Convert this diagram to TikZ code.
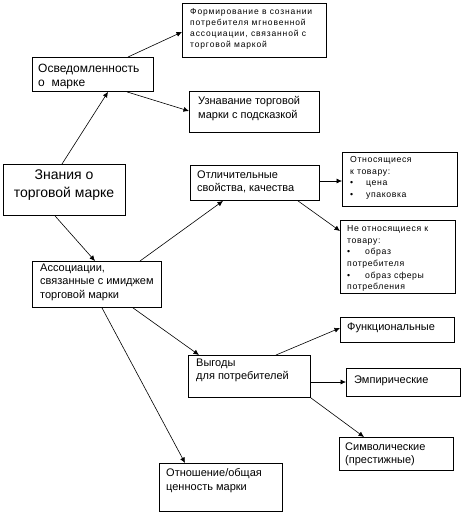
\documentclass[tikz,border=0pt]{standalone}
\usepackage{fontspec}
\setmainfont{Liberation Sans}
\newfontfamily\spaced[LetterSpace=10]{Liberation Sans}
\newfontfamily\mspaced[LetterSpace=7]{Liberation Sans}
\usetikzlibrary{arrows.meta,calc}
\begin{document}
\begin{tikzpicture}[x=1pt,y=-1pt,
  box/.style={draw=black,line width=0.9pt,rectangle,inner sep=0pt,anchor=north west},
  txt/.style={anchor=north west,inner sep=0pt,align=left,font=\fontsize{11}{13.5}\selectfont},
  ltxt/.style={anchor=north west,inner sep=0pt,align=left,font=\fontsize{12}{13.5}\selectfont},
  stxt/.style={anchor=north west,inner sep=0pt,align=left,font=\spaced\fontsize{8.5}{11}\selectfont},
  mtxt/.style={anchor=north west,inner sep=0pt,align=left,font=\mspaced\fontsize{8.7}{11.6}\selectfont},
  btxt/.style={inner sep=0pt,align=center,font=\fontsize{14}{18}\selectfont},
  arr/.style={draw=black,line width=0.6pt,-{Latex[length=5.5pt,width=5pt]}}
]
\fill[white] (0,0) rectangle (466,514);
\useasboundingbox (0,0) rectangle (466,514);

% boxes
\node[box,minimum width=144pt,minimum height=54pt] (form) at (182,3) {};
\node[box,minimum width=121pt,minimum height=34pt] (os) at (32,57) {};
\node[box,minimum width=130pt,minimum height=41pt] (uzn) at (189,91) {};
\node[box,minimum width=122pt,minimum height=51pt] (zn) at (3,164) {};
\node[box,minimum width=129pt,minimum height=35pt] (ot) at (190,165) {};
\node[box,minimum width=115pt,minimum height=54pt] (rel) at (342,152) {};
\node[box,minimum width=115pt,minimum height=73pt] (nrel) at (340,220) {};
\node[box,minimum width=129pt,minimum height=46pt] (as) at (32,261) {};
\node[box,minimum width=114pt,minimum height=25pt] (fn) at (340,317) {};
\node[box,minimum width=122pt,minimum height=42pt] (vy) at (188,355) {};
\node[box,minimum width=114pt,minimum height=28pt] (emp) at (346,368) {};
\node[box,minimum width=114pt,minimum height=33pt] (sym) at (339,437) {};
\node[box,minimum width=123pt,minimum height=48pt] (otn) at (159,463) {};

% texts
\node[stxt] (form-t) at (190,8.5) {Формирование в сознании\\потребителя мгновенной\\ассоциации, связанной с\\торговой маркой};
\node[ltxt] (os-t) at (38,64) {Осведомленность\\о~~марке};
\node[txt] (uzn-t) at (198,96.5) {Узнавание торговой\\марки с подсказкой};
\node[btxt] (zn-t) at (64,185) {Знания о\\торговой марке};
\node[txt] (ot-t) at (197,170.5) {Отличительные\\свойства, качества};
\node[mtxt] (rel-t) at (350,156.5) {Относящиеся\\к товару:\\\makebox[16pt][l]{•}цена\\\makebox[16pt][l]{•}упаковка};
\node[mtxt] (nrel-t) at (347,225.5) {Не относящиеся к\\товару:\\\makebox[18pt][l]{•}образ\\потребителя\\\makebox[18pt][l]{•}образ сферы\\потребления};
\node[txt] (as-t) at (40,263.5) {Ассоциации,\\связанные с имиджем\\торговой марки};
\node[txt] (fn-t) at (347,322.5) {Функциональные};
\node[txt] (vy-t) at (196,358.5) {Выгоды\\для потребителей};
\node[txt] (emp-t) at (354,375.5) {Эмпирические};
\node[txt] (sym-t) at (345,442.5) {Символические\\(престижные)};
\node[txt] (otn-t) at (166,468.5) {Отношение/общая\\ценность марки};

% connectors
\draw[arr] ([xshift=59pt]zn.north west) -- ([xshift=76pt]os.south west);
\draw[arr] ([xshift=96pt]os.north west) -- ([yshift=-29pt]form.north west);
\draw[arr] ([xshift=95pt]os.south west) -- ([yshift=-20pt]uzn.north west);
\draw[arr] ([xshift=52pt]zn.south west) -- ([xshift=63pt]as.north west);
\draw[arr] ([xshift=108pt]as.north west) -- ([xshift=33pt]ot.south west);
\draw[arr] ([yshift=-16pt]ot.north east) -- ([yshift=-29pt]rel.north west);
\draw[arr] ([xshift=108pt]ot.south west) -- ([yshift=-11pt]nrel.north west);
\draw[arr] ([xshift=101pt]as.south west) -- ([xshift=11pt]vy.north west);
\draw[arr] ([xshift=70pt]as.south west) -- ([xshift=26pt]otn.north west);
\draw[arr] ([xshift=88pt]vy.north west) -- ([yshift=-11pt]fn.north west);
\draw[arr] ([yshift=-27pt]vy.north east) -- ([yshift=-14pt]emp.north west);
\draw[arr] (vy.south east) -- ([xshift=25pt]sym.north west);
\end{tikzpicture}
\end{document}
